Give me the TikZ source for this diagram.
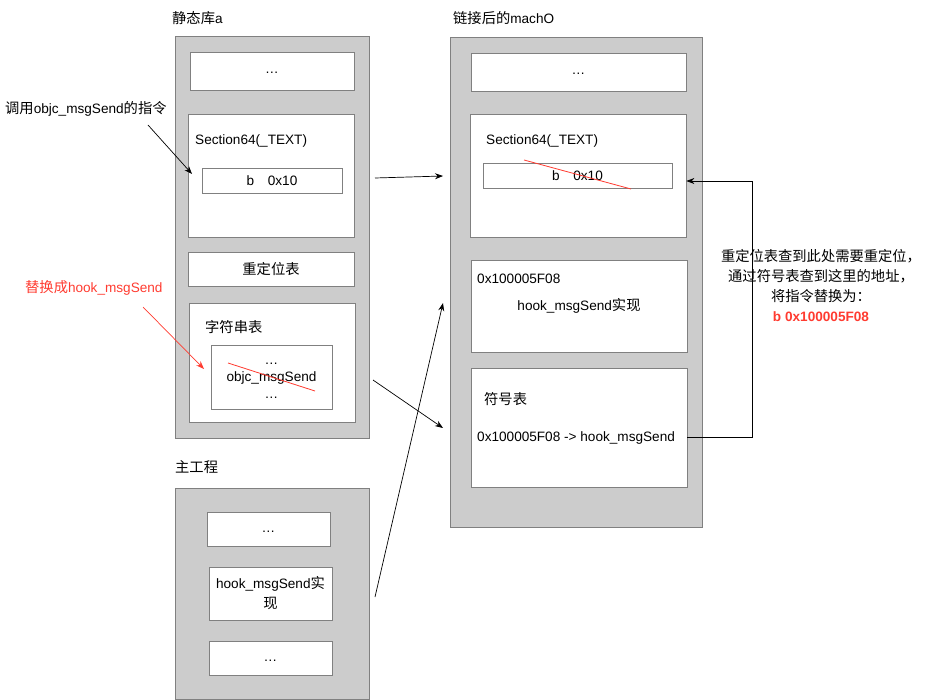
\documentclass[tikz,border=0pt]{standalone}
\usepackage{fontspec}
\setmainfont{Liberation Sans}
\newfontfamily\cjk[Scale=1.05]{Noto Sans CJK SC}
\usepackage{tikz}
\usetikzlibrary{arrows.meta,calc}
\definecolor{panelgray}{HTML}{CCCCCC}
\definecolor{edgegray}{HTML}{808080}
\definecolor{hookred}{HTML}{FF3B30}
\tikzset{
  panel/.style={draw=edgegray, fill=panelgray, line width=0.8pt},
  cell/.style={draw=edgegray, fill=white, line width=0.8pt, align=center, inner sep=2pt},
  dots/.style={cell, text height=9.5pt, text depth=3.5pt},
  lbl/.style={anchor=west, inner sep=0pt, yshift=-1.5pt},
  arr/.style={-{Stealth[length=8pt,width=6pt]}, line width=0.7pt},
  strike/.style={draw=hookred, line width=0.8pt}
}

\begin{document}
\begin{tikzpicture}[x=1pt,y=-1pt,font=\fontsize{13.6}{20}\selectfont]
\useasboundingbox (0,0) rectangle (925,700);
% static library a
\node[lbl] (libTitle) at (172,17) {{\cjk 静态库}a};
\node[panel, minimum width=194, minimum height=402] (libA) at (272,237) {};
\node[dots, minimum width=164, minimum height=38] (libDots) at (272,71) {…};
\node[cell, minimum width=166, minimum height=123] (libSec) at (271,175.5) {};
\node[lbl] (libSecName) at (195,139) {Section64(\_TEXT)};
\node[cell, minimum width=140, minimum height=25] (libCode) at (272,180.5) {b\quad 0x10};
\node[cell, minimum width=166, minimum height=34] (libReloc) at (271,269) {\cjk 重定位表};
\node[cell, minimum width=166, minimum height=119] (libStr) at (272,362.5) {};
\node[lbl] (libStrName) at (205,326) {\cjk 字符串表};
\node[cell, minimum width=121, minimum height=64] (libStrIn) at (271.5,377) {};
\node[align=center, inner sep=0pt] (libStrText) at ([yshift=-4pt]libStrIn.center) {…\\[-3pt]objc\_msgSend\\[-3pt]…};
\draw[strike] ($(libStrIn.center)+(-43.5,-14)$) -- ($(libStrIn.center)+(43.5,14)$);

% callouts on the left
\node[lbl] (callLbl) at (5,107) {{\cjk 调用}objc\_msgSend{\cjk 的指令}};
\coordinate (callFrom) at (148,125);
\coordinate (callTo) at (192,174);
\draw[arr] (callFrom) -- (callTo);
\node[lbl, text=hookred] (swapLbl) at (25,286) {{\cjk 替换成}hook\_msgSend};
\coordinate (swapFrom) at (143,307);
\coordinate (swapTo) at (204,369);
\draw[arr, hookred] (swapFrom) -- (swapTo);

% main project
\node[lbl] (mainTitle) at (175,466) {\cjk 主工程};
\node[panel, minimum width=194, minimum height=211] (mainP) at (272,593.5) {};
\node[dots, minimum width=123, minimum height=34] (mainDotsA) at (268.5,529) {…};
\node[cell, minimum width=123, minimum height=53] (mainHook) at (270.5,593.5) {hook\_msgSend{\cjk 实}\\{\cjk 现}};
\node[dots, minimum width=123, minimum height=34] (mainDotsB) at (270.5,658) {…};

% linked machO
\node[lbl] (machTitle) at (453,17) {{\cjk 链接后的}machO};
\node[panel, minimum width=252, minimum height=490] (macho) at (576,282) {};
\node[dots, minimum width=215, minimum height=38] (mDots) at (578.5,72) {…};
\node[cell, minimum width=216, minimum height=123] (mSec) at (578,175.5) {};
\node[lbl] (mSecName) at (486,139) {Section64(\_TEXT)};
\node[cell, minimum width=189, minimum height=25] (mCode) at (577.5,175.5) {b\quad 0x10};
\draw[strike] ($(mCode.center)+(-53.5,-15.5)$) -- ($(mCode.center)+(53.5,13.5)$);
\node[cell, minimum width=216, minimum height=92] (mImpl) at (579,306) {hook\_msgSend{\cjk 实现}};
\node[lbl] (mImplAddr) at (477,277) {0x100005F08};
\node[cell, minimum width=216, minimum height=119] (mSym) at (579,427.5) {};
\node[lbl] (mSymName) at (484,398) {\cjk 符号表};
\node[lbl] (mSymLine) at (477,436) {0x100005F08 -> hook\_msgSend};

% link arrows
\coordinate (secFrom) at (375,178);
\coordinate (secTo) at (443,176);
\draw[arr] (secFrom) -- (secTo);
\coordinate (strFrom) at (373,380);
\coordinate (strTo) at (443,428);
\draw[arr] (strFrom) -- (strTo);
\coordinate (hookFrom) at (375,597);
\coordinate (hookTo) at (443,303);
\draw[arr] (hookFrom) -- (hookTo);

% relocation note
\draw[arr] (mSym.east |- mSymLine) -- ++(65,0) |- ([yshift=-5.5pt]mSec.east);
\node[align=center] (note) at (821,286) {{\cjk 重定位表查到此处需要重定位，}\\{\cjk 通过符号表查到这里的地址，}\\{\cjk 将指令替换为：}\\{\color{hookred}\bfseries b 0x100005F08}};
\end{tikzpicture}
\end{document}
